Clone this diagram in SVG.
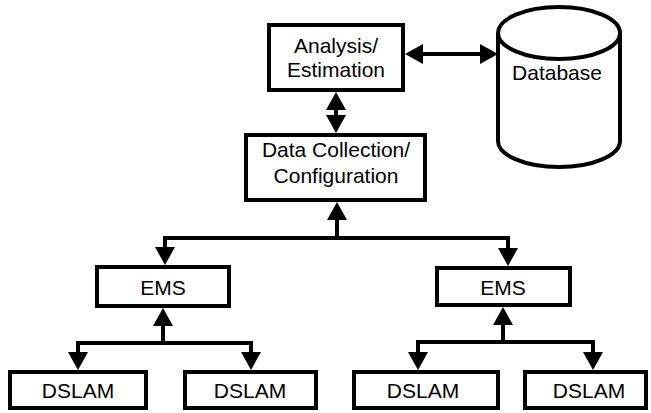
<svg xmlns="http://www.w3.org/2000/svg" width="651" height="413" viewBox="0 0 651 413">
<style>
.box{fill:#fff;stroke:#000;stroke-width:4}
.t{font-family:"Liberation Sans",Arial,sans-serif;font-size:21px;fill:#000;text-anchor:middle}
.c{fill:none;stroke:#000;stroke-width:4;stroke-linejoin:miter}
</style>
<defs>
<marker id="ah" viewBox="0 0 18 20" refX="8" refY="10" markerWidth="18" markerHeight="20" markerUnits="userSpaceOnUse" orient="auto-start-reverse">
<path d="M0,0 L18,10 L0,20 z" fill="#000"/>
</marker>
</defs>
<rect width="651" height="413" fill="#fff"/>
<g id="connectors">
<line class="c" x1="415" y1="54" x2="488" y2="54" marker-start="url(#ah)" marker-end="url(#ah)"/>
<line class="c" x1="336" y1="102" x2="336" y2="123" marker-start="url(#ah)" marker-end="url(#ah)"/>
<path class="c" d="M165,255 V238 H508 V256" marker-start="url(#ah)" marker-end="url(#ah)"/>
<line class="c" x1="337" y1="238" x2="337" y2="212" marker-end="url(#ah)"/>
<path class="c" d="M78,360 V343 H251 V360" marker-start="url(#ah)" marker-end="url(#ah)"/>
<line class="c" x1="163" y1="343" x2="163" y2="318" marker-end="url(#ah)"/>
<path class="c" d="M418,360 V342 H593 V360" marker-start="url(#ah)" marker-end="url(#ah)"/>
<line class="c" x1="503" y1="342" x2="503" y2="317" marker-end="url(#ah)"/>
</g>
<g id="analysis">
<rect class="box" x="269" y="25" width="134" height="65"/>
<text class="t" x="336" y="53">Analysis/</text>
<text class="t" x="336" y="77">Estimation</text>
</g>
<g id="database">
<path d="M498,33 V141 A61,26 0 0 0 620,141 V33 A61,26 0 0 0 498,33 A61,26 0 0 0 620,33" fill="#fff" stroke="#000" stroke-width="4"/>
<text class="t" x="557" y="80">Database</text>
</g>
<g id="datacollection">
<rect class="box" x="246" y="135" width="179" height="65"/>
<text class="t" x="336" y="157">Data Collection/</text>
<text class="t" x="336" y="183">Configuration</text>
</g>
<g id="ems-left">
<rect class="box" x="97" y="267" width="132" height="39"/>
<text class="t" x="163" y="295">EMS</text>
</g>
<g id="ems-right">
<rect class="box" x="437" y="268" width="133" height="37"/>
<text class="t" x="503" y="295">EMS</text>
</g>
<g id="dslam-1">
<rect class="box" x="10" y="372" width="136" height="36"/>
<text class="t" x="78" y="398">DSLAM</text>
</g>
<g id="dslam-2">
<rect class="box" x="185" y="372" width="131" height="36"/>
<text class="t" x="250" y="398">DSLAM</text>
</g>
<g id="dslam-3">
<rect class="box" x="354" y="372" width="144" height="36"/>
<text class="t" x="423" y="398">DSLAM</text>
</g>
<g id="dslam-4">
<rect class="box" x="525" y="372" width="121" height="36"/>
<text class="t" x="589" y="398">DSLAM</text>
</g>
</svg>
